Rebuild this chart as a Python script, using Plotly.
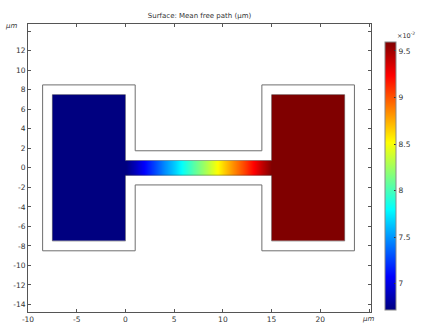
import plotly.graph_objects as go

# ---- data ----
channel_x = [0, 1, 2, 3, 4, 5, 6, 7, 8, 9, 10, 11, 12, 13, 14, 15]
channel_mfp = [6.72, 6.90, 7.09, 7.28, 7.48, 7.66, 7.85, 8.05, 8.24, 8.44,
               8.63, 8.83, 9.02, 9.22, 9.41, 9.60]
left_block_mfp = 6.72
right_block_mfp = 9.60
cmin, cmax = 6.72, 9.60
cbar_ticks = [7, 7.5, 8, 8.5, 9, 9.5]
cbar_ticktext = ["7", "7.5", "8", "8.5", "9", "9.5"]

left_block_x = [-5.625, -1.875]
right_block_x = [16.875, 20.625]
block_y = [-3.75, 3.75]
channel_y = [-0.375, 0.375]

outer_x = [-8.5, 1, 1, 14, 14, 23.5, 23.5, 14, 14, 1, 1, -8.5, -8.5]
outer_y = [8.5, 8.5, 1.75, 1.75, 8.5, 8.5, -8.5, -8.5, -1.75, -1.75, -8.5, -8.5, 8.5]
inner_x = [-7.5, 0, 0, 15, 15, 22.5, 22.5, 15, 15, 0, 0, -7.5, -7.5]
inner_y = [7.5, 7.5, 0.75, 0.75, 7.5, 7.5, -7.5, -7.5, -0.75, -0.75, -7.5, -7.5, 7.5]

x_ticks = [-10, -5, 0, 5, 10, 15, 20, 25]
x_ticktext = ["-10", "-5", "0", "5", "10", "15", "20", " "]
y_ticks = [-14, -12, -10, -8, -6, -4, -2, 0, 2, 4, 6, 8, 10, 12, 14]
y_ticktext = ["-14", "-12", "-10", "-8", "-6", "-4", "-2", "0", "2", "4", "6", "8", "10", "12", " "]

jet = [[0, "rgb(0,0,128)"], [0.125, "rgb(0,0,255)"], [0.375, "rgb(0,255,255)"],
       [0.625, "rgb(255,255,0)"], [0.875, "rgb(255,0,0)"], [1, "rgb(128,0,0)"]]

W, H = 436, 327
ml, mr, mt, mb = 28, 65.3, 24, 15.3
pw, ph = W - ml - mr, H - mt - mb

FONT = "DejaVu Sans"
TXT = "#333333"

fig = go.Figure()
fig.add_trace(go.Heatmap(x=channel_x, y=channel_y, z=[channel_mfp, channel_mfp],
                         coloraxis="coloraxis", zsmooth="best", hoverinfo="skip"))
fig.add_trace(go.Heatmap(x=left_block_x, y=block_y,
                         z=[[left_block_mfp] * 2] * 2,
                         coloraxis="coloraxis", zsmooth="best", hoverinfo="skip"))
fig.add_trace(go.Heatmap(x=right_block_x, y=block_y,
                         z=[[right_block_mfp] * 2] * 2,
                         coloraxis="coloraxis", zsmooth="best", hoverinfo="skip"))
fig.add_trace(go.Scatter(x=inner_x, y=inner_y, mode="lines",
                         line=dict(color="rgba(50,50,50,0.5)", width=0.8),
                         hoverinfo="skip", showlegend=False))
fig.add_trace(go.Scatter(x=outer_x, y=outer_y, mode="lines",
                         line=dict(color="#6e6e6e", width=1),
                         hoverinfo="skip", showlegend=False))

axis_common = dict(showgrid=False, zeroline=False, showline=True, linecolor="#555555",
                   linewidth=1, mirror="ticks", ticks="inside", ticklen=3,
                   tickcolor="#555555", automargin=False,
                   tickfont=dict(family=FONT, size=7.5, color=TXT))

fig.update_layout(
    width=W, height=H,
    margin=dict(l=ml, r=mr, t=mt, b=mb, autoexpand=False),
    paper_bgcolor="white", plot_bgcolor="white",
    showlegend=False,
    xaxis=dict(range=[-10, 25.2], tickvals=x_ticks, ticktext=x_ticktext, **axis_common),
    yaxis=dict(range=[-14.77, 14.74], tickvals=y_ticks, ticktext=y_ticktext, **axis_common),
    coloraxis=dict(
        cmin=cmin, cmax=cmax, colorscale=jet,
        colorbar=dict(
            x=(385 - ml) / pw, xanchor="left", xpad=0,
            y=(mt + ph - 175.5) / ph, yanchor="middle", ypad=0,
            len=267.6, lenmode="pixels",
            thickness=11, thicknessmode="pixels",
            outlinecolor="#888888", outlinewidth=1,
            tickvals=cbar_ticks, ticktext=cbar_ticktext,
            ticks="inside", ticklen=2, tickcolor="#333333",
            tickfont=dict(family=FONT, size=7.5, color=TXT),
        ),
    ),
    title=dict(text="Surface: Mean free path (µm)", x=0.5, xref="paper", xanchor="center",
               y=1 - 15.7 / H, yref="container", yanchor="middle",
               font=dict(family=FONT, size=7, color=TXT)),
    annotations=[
        dict(text="×10<sup>-2</sup>", xref="paper", yref="paper",
             x=(395 - ml) / pw, y=(mt + ph - 35) / ph, xanchor="left", yanchor="middle",
             showarrow=False, font=dict(family=FONT, size=6.5, color=TXT)),
        dict(text="<i>µm</i>", xref="paper", yref="paper",
             x=(3 - ml) / pw, y=(mt + ph - 25.7) / ph, xanchor="left", yanchor="middle",
             showarrow=False, font=dict(family=FONT, size=7, color=TXT)),
        dict(text="<i>µm</i>", xref="paper", yref="paper",
             x=(360 - ml) / pw, y=(mt + ph - 319) / ph, xanchor="left", yanchor="middle",
             showarrow=False, font=dict(family=FONT, size=7, color=TXT)),
    ],
)

fig.write_html("out.html")
